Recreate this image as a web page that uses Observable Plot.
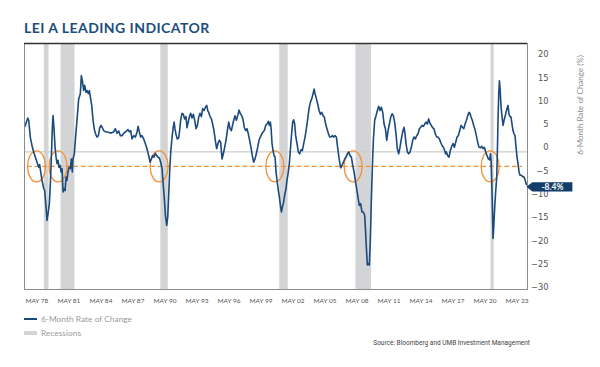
<!DOCTYPE html>
<html><head><meta charset="utf-8">
<script src="https://cdn.jsdelivr.net/npm/d3@7"></script>
<script src="https://cdn.jsdelivr.net/npm/@observablehq/plot@0.6"></script>
<style>
body{margin:0;background:#fff;}
#wrap{position:relative;width:600px;height:367px;overflow:hidden;font-family:Lato,"Open Sans",sans-serif;}
#chart{position:absolute;left:0;top:0;}
.ov{position:absolute;white-space:nowrap;}
#title{left:24px;top:21px;font-weight:700;font-size:14px;line-height:14px;color:#1b4e7c;letter-spacing:0.45px;}
#ytitle{left:580px;top:105px;font-size:8px;line-height:8px;color:#8a8a8a;transform:translate(-50%,-50%) rotate(-90deg);}
.sw{position:absolute;left:24px;width:13px;}
.lg{left:41px;font-size:8.4px;line-height:8px;color:#9a9a9a;}
#source{right:70px;top:340px;font-family:Roboto,sans-serif;font-size:6.5px;line-height:6.5px;color:#444;}
</style></head><body><div id="wrap">
<div id="chart"></div>
<div class="ov" id="title">LEI A LEADING INDICATOR</div>
<div class="ov" id="ytitle">6-Month Rate of Change (%)</div>
<div class="sw" style="top:318px;height:2px;background:#1b4a7d"></div>
<div class="ov lg" style="top:315px">6-Month Rate of Change</div>
<div class="sw" style="top:331px;height:4px;background:#d3d4d6"></div>
<div class="ov lg" style="top:328.5px">Recessions</div>
<div class="ov" id="source">Source: Bloomberg and UMB Investment Management</div>
</div>
<script>
const leiDates = [
1978.27,1978.51,1978.60,1978.74,1978.89,1979.04,1979.19,1979.34,1979.49,1979.58,1979.70,1979.79,1979.94,1980.03,1980.15,1980.24,1980.33,1980.45,1980.54,1980.63,1980.72,1980.78,1980.87,1980.96,1981.05,1981.14,1981.23,1981.32,1981.41,1981.50,1981.59,1981.68,1981.77,1981.86,1981.95,1982.03,1982.12,1982.21,1982.33,1982.42,1982.51,1982.57,1982.69,1982.78,1982.93,1983.08,1983.23,1983.32,1983.41,1983.53,1983.62,1983.74,1983.83,1983.95,1984.04,1984.13,1984.25,1984.37,1984.49,1984.61,1984.73,1984.85,1984.97,1985.09,1985.21,1985.32,1985.50,1985.68,1985.86,1986.04,1986.22,1986.37,1986.52,1986.67,1986.82,1986.97,1987.12,1987.27,1987.42,
1987.51,1987.63,1987.75,1987.87,1988.02,1988.17,1988.32,1988.41,1988.52,1988.64,1988.76,1988.91,1989.06,1989.21,1989.36,1989.48,1989.60,1989.72,1989.84,1989.96,1990.08,1990.20,1990.32,1990.44,1990.56,1990.65,1990.77,1990.86,1990.98,1991.07,1991.16,1991.25,1991.34,1991.46,1991.55,1991.64,1991.72,1991.81,1991.93,1992.05,1992.14,1992.23,1992.35,1992.47,1992.59,1992.71,1992.80,1992.89,1993.01,1993.13,1993.25,1993.37,1993.49,1993.61,1993.73,1993.85,1993.97,1994.09,1994.21,1994.33,1994.45,1994.57,1994.66,1994.75,1994.87,1994.99,1995.10,1995.22,1995.34,1995.46,1995.58,1995.70,1995.82,1995.94,1996.06,1996.18,1996.30,1996.42,1996.54,1996.66,1996.78,
1996.99,1997.11,1997.23,1997.35,1997.47,1997.59,1997.71,1997.83,1997.95,1998.07,1998.18,1998.30,1998.42,1998.54,1998.66,1998.78,1998.90,1999.02,1999.14,1999.26,1999.38,1999.50,1999.62,1999.74,1999.86,1999.98,2000.10,2000.19,2000.28,2000.34,2000.43,2000.52,2000.61,2000.70,2000.79,2000.88,2000.97,2001.09,2001.18,2001.27,2001.36,2001.47,2001.56,2001.68,2001.77,2001.89,2001.98,2002.07,2002.16,2002.28,2002.37,2002.46,2002.55,2002.67,2002.79,2002.91,2003.03,2003.15,2003.27,2003.39,2003.51,2003.63,2003.75,2003.87,2003.99,2004.11,2004.20,2004.29,2004.41,2004.53,2004.65,2004.77,2004.88,2005.00,2005.12,2005.24,2005.36,2005.48,2005.60,2005.72,2005.84,2005.96,2006.08,2006.20,
2006.35,2006.47,2006.59,2006.71,2006.83,2006.95,2007.07,2007.19,2007.31,2007.43,2007.55,2007.67,2007.79,2007.90,2008.02,2008.14,2008.26,2008.38,2008.50,2008.62,2008.74,2008.80,2008.89,2008.98,2009.07,2009.16,2009.25,2009.34,2009.43,2009.52,2009.64,2009.76,2009.88,2010.00,2010.12,2010.24,2010.36,2010.48,2010.60,2010.72,2010.84,2010.96,2011.08,2011.20,2011.31,2011.43,2011.55,2011.67,2011.79,2011.91,2012.03,2012.15,2012.27,2012.36,2012.45,2012.57,2012.69,2012.81,2012.93,2013.05,2013.17,2013.29,2013.41,2013.53,2013.65,2013.77,2013.89,2014.01,2014.13,2014.25,2014.37,2014.48,2014.60,2014.72,2014.84,2014.96,2015.08,2015.20,2015.32,2015.44,2015.56,2015.68,2015.80,2015.92,
2016.00,2016.07,2016.19,2016.31,2016.43,2016.55,2016.67,2016.79,2016.91,2017.03,2017.15,2017.27,2017.39,2017.51,2017.63,2017.75,2017.87,2017.99,2018.10,2018.19,2018.28,2018.40,2018.52,2018.64,2018.76,2018.88,2019.00,2019.12,2019.24,2019.36,2019.48,2019.60,2019.72,2019.84,2019.96,2020.02,2020.08,2020.14,2020.20,2020.26,2020.32,2020.41,2020.50,2020.59,2020.65,2020.71,2020.77,2020.83,2020.89,2020.98,2021.07,2021.16,2021.25,2021.33,2021.42,2021.51,2021.60,2021.69,2021.78,2021.87,2021.96,2022.05,2022.14,2022.23,2022.32,2022.41,2022.50,2022.59,2022.68,2022.80,2022.92,2023.04,2023.13,2023.25
];
const leiValues = [
4.6,6.4,5.9,2.3,0.5,-0.9,-2.0,-3.1,-4.2,-3.6,-5.6,-7.0,-8.7,-9.2,-12.7,-15.6,-14.2,-12.0,-7.7,-2.0,4.4,6.9,4.1,0.1,-2.0,-3.4,-2.7,-4.2,-3.8,-5.2,-4.5,-9.5,-8.8,-9.2,-6.3,-7.0,-5.2,-4.2,-4.5,-2.4,-5.2,-2.4,-1.3,1.6,5.9,10.5,11.6,15.5,14.4,12.3,13.4,11.9,12.3,11.6,12.3,10.9,9.1,5.9,3.9,2.9,2.3,2.6,4.3,4.8,4.3,3.7,3.4,3.4,3.2,3.2,3.4,4.1,3.1,3.6,2.6,2.6,3.1,3.4,3.7,
3.9,3.4,3.7,1.9,2.6,2.3,3.4,4.6,3.4,2.3,2.6,1.9,0.9,-0.2,-1.7,-3.1,-2.4,-1.7,-2.0,-1.2,-1.7,-2.0,-2.2,-3.1,-4.5,-7.4,-11.0,-14.5,-16.7,-14.9,-9.9,-4.9,-0.9,2.3,4.1,5.5,4.1,2.9,1.9,2.1,3.7,5.9,7.4,7.2,6.2,6.7,4.3,5.3,6.6,7.4,6.4,7.2,5.9,4.1,4.8,6.6,7.4,6.7,8.4,8.0,8.7,9.1,8.0,7.6,6.7,6.2,5.1,3.7,1.6,-0.2,0.9,1.6,1.2,-2.4,-1.3,0.1,1.6,3.7,5.5,4.1,3.7,
5.9,6.9,5.9,6.9,8.1,7.3,6.9,6.0,4.3,3.7,4.1,3.0,1.6,0.1,-1.7,-3.1,-2.4,-1.3,0.1,1.6,2.3,2.9,3.4,3.7,4.8,5.1,5.7,4.8,5.5,4.3,0.9,-0.6,-1.7,-2.0,-5.2,-7.0,-8.8,-10.6,-12.4,-13.8,-12.7,-11.7,-10.2,-8.8,-7.0,-5.2,-3.4,-0.6,2.3,5.5,6.0,5.1,2.6,0.9,-0.9,-1.3,-0.4,-0.6,0.9,2.3,4.1,6.2,8.4,9.8,10.5,11.6,12.6,11.6,10.5,9.4,8.0,7.2,7.6,6.9,6.6,5.1,4.1,3.1,2.3,2.3,2.6,2.3,2.6,2.3,
-0.6,-2.7,-4.3,-3.8,-3.1,-2.4,-2.0,-1.3,-0.9,-1.7,-2.0,-3.8,-5.2,-7.0,-8.8,-10.6,-12.4,-12.0,-13.8,-13.8,-14.5,-17.0,-21.3,-25.2,-24.9,-25.2,-19.9,-11.3,-4.2,1.6,5.9,6.9,8.0,8.9,8.0,8.7,7.6,5.1,4.1,1.6,3.7,5.1,6.6,7.3,6.9,5.5,3.0,-0.2,-1.3,0.1,1.9,3.4,4.4,3.0,0.9,-0.9,-1.3,-0.9,0.1,1.6,2.3,1.9,2.6,3.0,4.1,4.4,4.8,4.6,5.1,5.5,5.1,6.2,5.3,4.8,4.3,4.1,3.0,2.3,2.3,1.9,1.2,0.5,0.1,-0.6,
-1.3,-0.9,-1.7,-2.0,-0.6,0.3,0.9,0.1,1.2,2.3,2.6,3.7,4.8,4.4,4.1,5.1,5.9,6.9,7.6,7.4,6.6,5.9,4.8,3.9,2.6,1.2,0.1,0.0,0.3,-0.2,0.1,-0.9,-1.7,-2.4,-2.6,-1.3,-2.7,-7.0,-12.7,-19.5,-17.0,-12.7,-9.2,-6.3,-0.6,6.6,11.6,14.4,12.6,8.7,6.6,4.8,5.9,6.6,7.6,8.4,9.1,7.2,6.7,6.6,5.1,3.7,3.0,2.6,0.1,-2.0,-3.4,-5.2,-5.9,-5.9,-6.2,-6.3,-6.9,-7.9
];
const recessionStarts = [1980.00, 1981.50, 1990.45, 2001.12, 2007.96, 2020.08];
const recessionEnds   = [1980.42, 1982.75, 1991.12, 2001.88, 2009.36, 2020.36];
const signalDates = [1979.30, 1981.23, 1990.30, 2000.68, 2007.71, 2020.00];
const signalLevel = -4;
const zeroLevel = -0.9;
const yTicks = [20, 15, 10, 5, 0, -5, -10, -15, -20, -25, -30];
const xTickLabels = ["MAY 78","MAY 81","MAY 84","MAY 87","MAY 90","MAY 93","MAY 96","MAY 99","MAY 02","MAY 05","MAY 08","MAY 11","MAY 14","MAY 17","MAY 20","MAY 23"];
const latestLabel = "-8.4%";
const latestValue = -8.4;

const navy = "#1b4a7d", orange = "#f39036";
const xDomain = [1978.22, 2023.35];
const yDomain = [-30.45, 22.4];
const xTickFirst = 1978.3, xTickStep = 2.872;
const xTickPositions = xTickLabels.map((_, i) => xTickFirst + i * xTickStep);
const labelOf = new Map(xTickPositions.map((p, i) => [p, xTickLabels[i]]));

const series = leiDates.map((d, i) => ({date: d, value: leiValues[i]}));
const recessions = recessionStarts.map((s, i) => ({start: s, end: recessionEnds[i]}));
const signals = signalDates.map(d => ({date: d, value: signalLevel}));
const latest = {date: leiDates[leiDates.length - 1], value: latestValue, label: latestLabel};

const ellipse = {draw(ctx, size) {
  const r = Math.sqrt(size / Math.PI), rx = r * 0.58, ry = r, k = 0.5523;
  ctx.moveTo(rx, 0);
  ctx.bezierCurveTo(rx, ry * k, rx * k, ry, 0, ry);
  ctx.bezierCurveTo(-rx * k, ry, -rx, ry * k, -rx, 0);
  ctx.bezierCurveTo(-rx, -ry * k, -rx * k, -ry, 0, -ry);
  ctx.bezierCurveTo(rx * k, -ry, rx, -ry * k, rx, 0);
  ctx.closePath();
}};
const arrow = {draw(ctx) {
  ctx.moveTo(0, 0); ctx.lineTo(6, -4.7); ctx.lineTo(46, -4.7); ctx.lineTo(46, 4.7); ctx.lineTo(6, 4.7); ctx.closePath();
}};

const chart = Plot.plot({
  width: 600, height: 367,
  marginLeft: 24, marginRight: 73, marginTop: 43, marginBottom: 78,
  x: {domain: xDomain, label: null},
  y: {domain: yDomain, label: null},
  style: {fontFamily: "Lato, sans-serif", background: "transparent", overflow: "visible"},
  marks: [
    Plot.rect(recessions, {x1: "start", x2: "end", fill: "#d3d4d6"}),
    Plot.ruleY([zeroLevel], {stroke: "#cdcdcd", strokeWidth: 1.2}),
    Plot.ruleY([signalLevel], {stroke: orange, strokeWidth: 1.4, strokeDasharray: "4.7,3", insetLeft: 3, insetRight: 5}),
    Plot.dot(signals, {x: "date", y: "value", symbol: ellipse, r: 15.5, stroke: orange, fill: "none", strokeWidth: 1.3}),
    Plot.lineY(series, {x: "date", y: "value", stroke: navy, strokeWidth: 1.6}),
    Plot.frame({stroke: "#8c8c8c", strokeWidth: 1}),
    Plot.ruleY([yDomain[1]], {stroke: "#333", strokeWidth: 1.6}),
    Plot.axisY({anchor: "right", ticks: yTicks, tickSize: 0, tickPadding: 21, textAnchor: "end", fontSize: 8.3, fontFamily: "DejaVu Sans", fill: "#555", label: null}),
    Plot.axisX({anchor: "bottom", ticks: xTickPositions, tickFormat: d => labelOf.get(d), tickSize: 0, tickPadding: 9, textAnchor: "start", fontSize: 6.5, fill: "#555", label: null}),
    Plot.dot([latest], {x: "date", y: "value", symbol: arrow, r: 5, fill: "#123d6a", stroke: "none"}),
    Plot.text([latest], {x: "date", y: "value", text: "label", dx: 26, fill: "white", fontSize: 8.5, fontWeight: "bold"})
  ]
});
document.getElementById("chart").appendChild(chart);
</script>
</body></html>
